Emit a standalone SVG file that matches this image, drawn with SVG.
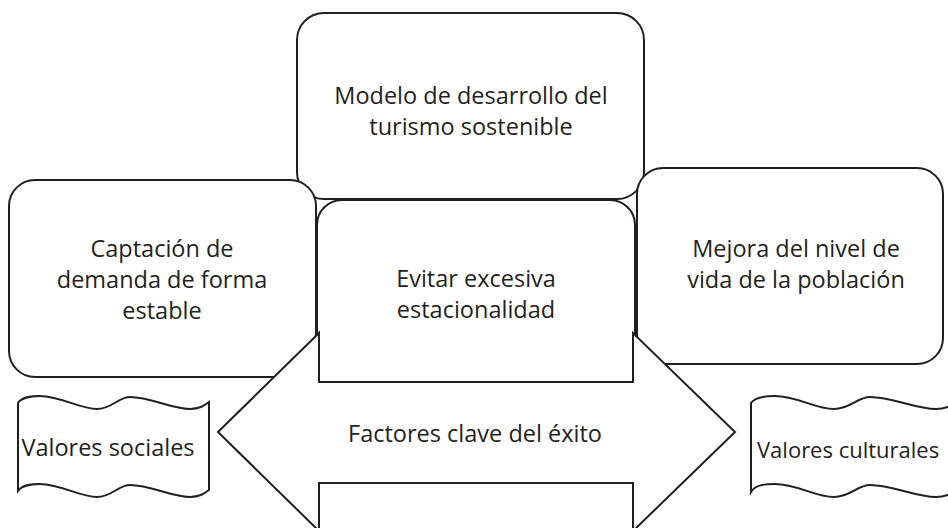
<svg xmlns="http://www.w3.org/2000/svg" width="948" height="528" viewBox="0 0 948 528">
<style>
.box{fill:#ffffff;stroke:#231f20;stroke-width:2}
.t{font-family:"Open Sans","Noto Sans","Liberation Sans",sans-serif;font-size:23.5px;fill:#231f20;text-anchor:middle}
.ts{font-family:"Open Sans","Noto Sans","Liberation Sans",sans-serif;font-size:22px;fill:#231f20}
</style>
<rect width="948" height="528" fill="#ffffff"/>
<g id="modelo">
<rect class="box" x="297" y="13" width="347" height="186" rx="27" ry="27"/>
<text class="t" x="471" y="104">Modelo de desarrollo del</text>
<text class="t" x="471" y="135">turismo sostenible</text>
</g>
<g id="captacion">
<rect class="box" x="9" y="180" width="307" height="197" rx="26" ry="26"/>
<text class="t" x="162" y="257">Captación de</text>
<text class="t" x="162" y="288">demanda de forma</text>
<text class="t" x="162" y="319">estable</text>
</g>
<g id="mejora">
<rect class="box" x="637" y="168" width="306" height="196" rx="26" ry="26"/>
<text class="t" x="796" y="257">Mejora del nivel de</text>
<text class="t" x="796" y="288">vida de la población</text>
</g>
<g id="evitar">
<rect class="box" x="317" y="200" width="318" height="200" rx="25" ry="25"/>
<text class="t" x="476" y="287">Evitar excesiva</text>
<text class="t" x="476" y="318">estacionalidad</text>
</g>
<g id="factores">
<path class="box" d="M218,432 L319,333 L319,382 L633,382 L633,333 L735,432 L633,531 L633,483 L319,483 L319,531 Z"/>
<text class="t" x="475" y="442">Factores clave del éxito</text>
</g>
<g id="valores-sociales">
<path class="box" d="M18,403 C22,397 30,396 40,396 C60,396 80,409 97,409 C112,409 118,397 130,397 C150,397 172,409 190,409 C200,409 205,405 209,402 L209,490 C205,493 200,497 190,497 C172,497 150,485 130,485 C118,485 112,497 97,497 C80,497 60,484 40,484 C30,484 22,485 18,491 Z"/>
<text class="t" x="108" y="456">Valores sociales</text>
</g>
<g id="valores-culturales">
<path class="box" d="M751,403 C755,397 764,396 775,396 C797,396 815,409 834,409 C851,409 857,397 870,397 C892,397 916,409 936,409 C947,409 953,405 958,402 L958,490 C953,493 947,497 936,497 C916,497 892,485 870,485 C857,485 851,497 834,497 C815,497 797,484 775,484 C764,484 755,485 751,492 Z"/>
<text class="ts" x="757" y="458">Valores culturales</text>
</g>
<g id="connectors"/>
</svg>
